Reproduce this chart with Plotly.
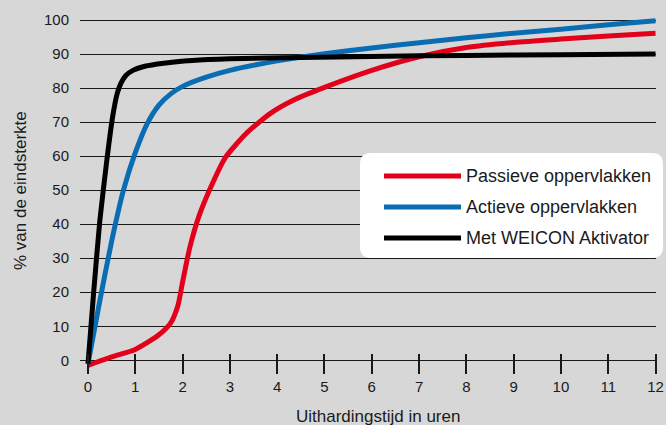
import plotly.graph_objects as go

# hours after bonding
hours_passive = [0, 0.5, 1.0, 1.5, 1.75, 1.9, 2.0, 2.15, 2.35, 2.6, 2.9, 3.35, 3.85, 4.35,
                 5, 6, 7, 8, 9, 10, 11, 12]
strength_passive = [-1.5, 1, 3.2, 7.5, 11, 16, 23, 33, 42.5, 51, 59.5, 66.7, 72.5, 76.5,
                    80.2, 85.2, 89.2, 91.9, 93.4, 94.4, 95.3, 96.1]

hours_active = [0, 0.25, 0.5, 0.75, 1.0, 1.25, 1.5, 1.75, 2.0, 2.5, 3, 4, 5, 6, 7, 8, 9, 10, 11, 12]
strength_active = [-1, 17.5, 35, 50, 61, 69.5, 75, 78.3, 80.5, 83.2, 85.2, 88, 90.1, 91.8,
                   93.3, 94.8, 96.1, 97.3, 98.6, 99.8]

hours_activator = [0, 0.12, 0.25, 0.4, 0.52, 0.62, 0.7, 0.8, 0.95, 1.2, 1.6, 2.2, 3, 4.5,
                   6, 8, 10, 12]
strength_activator = [-1, 20, 41, 59, 71.5, 78.5, 81.5, 83.7, 85.2, 86.4, 87.3, 88.1, 88.6, 89,
                      89.3, 89.6, 89.8, 90]

series_names = ['Passieve oppervlakken', 'Actieve oppervlakken', 'Met WEICON Aktivator']
series_colors = ['#e2001a', '#0a6db3', '#000000']

x_ticks = list(range(0, 13))
y_ticks = list(range(0, 101, 10))

FONT = 'Liberation Sans, Arial, Helvetica, sans-serif'
TEXT = '#1a1a1a'

# plot area in pixels (666 x 425 page)
L, R, T, B = 80, 10, 15, 55
W, H = 666 - L - R, 425 - T - B


def px_x(px):
    return (px - L) / W


def px_y(py):
    return (425 - B - py) / H


def rounded_box(x0, y0, x1, y1, r):
    rx, ry = r / W, r / H
    a, b, c, d = px_x(x0), px_y(y1), px_x(x1), px_y(y0)
    return (f'M{a + rx},{b} L{c - rx},{b} Q{c},{b} {c},{b + ry} '
            f'L{c},{d - ry} Q{c},{d} {c - rx},{d} L{a + rx},{d} '
            f'Q{a},{d} {a},{d - ry} L{a},{b + ry} Q{a},{b} {a + rx},{b} Z')


fig = go.Figure()
for xs, ys, name, color in zip([hours_passive, hours_active, hours_activator],
                               [strength_passive, strength_active, strength_activator],
                               series_names, series_colors):
    fig.add_trace(go.Scatter(x=xs, y=ys, name=name, mode='lines', showlegend=False,
                             line=dict(color=color, width=5, shape='spline', smoothing=0.6)))

# legend drawn by hand so the line samples match the original length
shapes = [dict(type='path', xref='paper', yref='paper', path=rounded_box(360, 153, 663, 258, 11),
               fillcolor='white', line=dict(width=0), layer='above')]
annotations = []
for i, (name, color) in enumerate(zip(series_names, series_colors)):
    row = 176 + 31 * i
    shapes.append(dict(type='line', xref='paper', yref='paper', x0=px_x(384), x1=px_x(461),
                       y0=px_y(row), y1=px_y(row), line=dict(color=color, width=5), layer='above'))
    annotations.append(dict(text=name, xref='paper', yref='paper', x=px_x(464), y=px_y(row),
                            xanchor='left', yanchor='middle', showarrow=False,
                            font=dict(size=18, color=TEXT, family=FONT)))

# axis titles as annotations so they sit where the original has them
annotations.append(dict(text='Uithardingstijd in uren', xref='paper', yref='paper',
                        x=px_x(378), y=px_y(416), xanchor='center', yanchor='middle',
                        showarrow=False, font=dict(size=17, color=TEXT, family=FONT)))
annotations.append(dict(text='% van de eindsterkte', xref='paper', yref='paper',
                        x=px_x(20), y=px_y(191), xanchor='center', yanchor='middle', textangle=-90,
                        showarrow=False, font=dict(size=17, color=TEXT, family=FONT)))

fig.update_layout(go.Layout(
    width=666, height=425,
    margin=dict(l=L, r=R, t=T, b=B, autoexpand=False),
    paper_bgcolor='#d7d7d7', plot_bgcolor='#d7d7d7',
    font=dict(family=FONT, size=15, color=TEXT),
    xaxis=dict(range=[-8 / 47.3, 12.01], tickvals=x_ticks, showgrid=False, zeroline=False,
               showline=False, ticks='outside', ticklen=20, tickwidth=1.5, tickcolor=TEXT,
               anchor='free', position=px_y(353), automargin=False),
    yaxis=dict(range=[-9.7 / 3.403, 100 + 5 / 3.403], tickvals=y_ticks, showgrid=True,
               gridcolor=TEXT, gridwidth=1, zeroline=False, showline=False, ticks='',
               ticklabelstandoff=10, automargin=False),
    shapes=shapes,
    annotations=annotations,
))

# the page's default body margin would push the chart 8px off the window corner
fig.write_html('out.html', config=dict(displayModeBar=False),
               post_script="document.body.style.margin = '0';")
